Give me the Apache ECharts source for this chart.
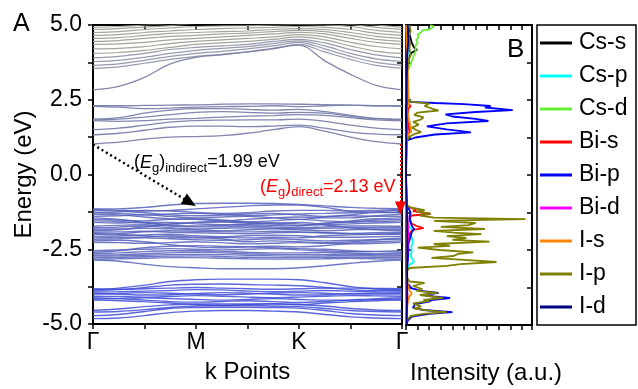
<!DOCTYPE html>
<html>
<head>
<meta charset="utf-8">
<script src="https://cdn.jsdelivr.net/npm/echarts@6/dist/echarts.min.js"></script>
<style>html,body{margin:0;padding:0;background:#fff}#c{width:638px;height:389px}</style>
</head>
<body>
<div id="c"></div>
<script>
// ---------- DATA ----------
const kLabels = ['Γ', 'M', 'K', 'Γ'];
const kPoints = [0, 0.25, 0.5, 0.75, 1, 1.25, 1.5, 1.75, 2, 2.25, 2.5, 2.75, 3];

const upperBandsLow = [
  [3.55,3.6,3.72,3.85,3.95,4.02,4.1,4.2,4.35,4.1,3.85,3.65,3.55],
  [3.65,3.7,3.82,3.95,4.05,4.12,4.2,4.3,4.42,4.2,3.95,3.75,3.65],
  [3.78,3.82,3.92,4.05,4.15,4.22,4.28,4.38,4.47,4.3,4.05,3.87,3.78],
  [3.9,3.95,4.05,4.18,4.25,4.3,4.35,4.45,4.52,4.4,4.18,4.0,3.9]
];
const upperBandsHigh = [
  [4.05,4.08,4.15,4.25,4.35,4.4,4.45,4.52,4.6,4.5,4.3,4.12,4.05],
  [4.2,4.22,4.28,4.38,4.45,4.5,4.55,4.6,4.68,4.6,4.42,4.28,4.2],
  [4.35,4.37,4.42,4.5,4.55,4.6,4.65,4.7,4.75,4.7,4.55,4.42,4.35],
  [4.45,4.48,4.55,4.62,4.65,4.7,4.73,4.78,4.82,4.78,4.65,4.52,4.45],
  [4.55,4.58,4.65,4.72,4.75,4.78,4.8,4.85,4.88,4.85,4.75,4.62,4.55],
  [4.65,4.68,4.75,4.8,4.85,4.88,4.9,4.92,4.95,4.92,4.85,4.72,4.65],
  [4.75,4.78,4.85,4.9,4.95,4.97,4.98,5.0,5.02,5.0,4.95,4.82,4.75],
  [4.85,4.88,4.93,4.98,5.05,5.08,5.1,5.1,5.1,5.08,5.02,4.92,4.85],
  [4.92,4.95,5.0,5.05,5.1,5.15,5.15,5.15,5.15,5.12,5.08,5.0,4.92]
];
const lowestCB = [2.83,2.95,3.25,3.7,3.92,4.0,4.1,4.22,4.33,3.8,3.35,2.98,2.83];
const midBands = [
  [2.30,2.30,2.31,2.32,2.33,2.35,2.36,2.36,2.35,2.34,2.32,2.30,2.30],
  [2.28,2.25,2.2,2.22,2.25,2.27,2.28,2.3,2.27,2.3,2.32,2.3,2.28],
  [1.85,1.9,2.05,2.15,2.2,2.2,2.18,2.15,2.18,2.1,1.98,1.88,1.85],
  [1.83,1.85,1.92,2.0,2.08,2.1,2.08,2.05,2.08,2.05,1.95,1.87,1.83],
  [1.8,1.78,1.8,1.85,1.88,1.92,1.95,1.97,2.0,1.98,1.9,1.83,1.8],
  [1.5,1.55,1.65,1.75,1.8,1.82,1.83,1.83,1.85,1.78,1.65,1.55,1.5],
  [1.33,1.38,1.48,1.58,1.62,1.62,1.6,1.62,1.65,1.55,1.42,1.35,1.33],
  [1.02,1.08,1.18,1.25,1.27,1.3,1.38,1.5,1.6,1.45,1.25,1.1,1.02]
];
const valenceBands = [
  [-1.15,-1.15,-1.1,-1.02,-0.97,-0.96,-0.96,-0.97,-1.0,-1.05,-1.1,-1.13,-1.15],
  [-1.17,-1.2,-1.22,-1.2,-1.15,-1.1,-1.05,-1.02,-1.02,-1.1,-1.22,-1.2,-1.17],
  [-1.2,-1.22,-1.28,-1.35,-1.38,-1.36,-1.32,-1.3,-1.35,-1.4,-1.35,-1.25,-1.2],
  [-1.27,-1.25,-1.2,-1.22,-1.27,-1.3,-1.28,-1.22,-1.2,-1.2,-1.23,-1.26,-1.27],
  [-1.27,-1.3,-1.35,-1.32,-1.3,-1.33,-1.38,-1.35,-1.32,-1.3,-1.28,-1.27,-1.27],
  [-1.33,-1.35,-1.42,-1.48,-1.5,-1.55,-1.5,-1.45,-1.42,-1.45,-1.45,-1.38,-1.33],
  [-1.4,-1.38,-1.35,-1.4,-1.45,-1.42,-1.4,-1.45,-1.5,-1.42,-1.38,-1.4,-1.4],
  [-1.45,-1.5,-1.6,-1.7,-1.72,-1.7,-1.68,-1.7,-1.72,-1.65,-1.55,-1.48,-1.45],
  [-1.5,-1.52,-1.55,-1.5,-1.48,-1.52,-1.58,-1.55,-1.5,-1.55,-1.58,-1.52,-1.5],
  [-1.55,-1.57,-1.62,-1.66,-1.6,-1.58,-1.62,-1.66,-1.7,-1.62,-1.6,-1.57,-1.55],
  [-1.6,-1.62,-1.6,-1.6,-1.65,-1.68,-1.65,-1.62,-1.65,-1.68,-1.65,-1.62,-1.6],
  [-1.73,-1.7,-1.68,-1.72,-1.75,-1.75,-1.72,-1.75,-1.78,-1.75,-1.72,-1.72,-1.73],
  [-1.78,-1.76,-1.72,-1.78,-1.82,-1.8,-1.78,-1.8,-1.82,-1.8,-1.78,-1.78,-1.78],
  [-1.83,-1.82,-1.8,-1.82,-1.85,-1.88,-1.85,-1.82,-1.85,-1.88,-1.85,-1.83,-1.83],
  [-1.88,-1.85,-1.75,-1.65,-1.6,-1.58,-1.6,-1.62,-1.6,-1.68,-1.78,-1.85,-1.88],
  [-1.93,-1.92,-1.9,-1.93,-1.95,-1.97,-1.98,-1.95,-1.93,-1.95,-1.97,-1.95,-1.93],
  [-1.97,-2.0,-2.05,-2.1,-2.12,-2.1,-2.12,-2.1,-2.12,-2.05,-2.02,-2.0,-1.97],
  [-2.0,-1.98,-1.92,-1.88,-1.9,-1.92,-1.92,-1.9,-1.92,-1.95,-1.98,-2.0,-2.0],
  [-2.07,-2.05,-2.02,-2.0,-2.05,-2.08,-2.05,-2.03,-2.05,-2.1,-2.1,-2.08,-2.07],
  [-2.12,-2.1,-2.1,-2.05,-2.1,-2.15,-2.25,-2.22,-2.25,-2.28,-2.25,-2.18,-2.12],
  [-2.17,-2.15,-2.12,-2.15,-2.18,-2.2,-2.18,-2.15,-2.18,-2.22,-2.2,-2.18,-2.17],
  [-2.22,-2.2,-2.25,-2.35,-2.42,-2.45,-2.42,-2.4,-2.42,-2.38,-2.3,-2.25,-2.22],
  [-2.27,-2.28,-2.3,-2.28,-2.25,-2.28,-2.32,-2.3,-2.28,-2.3,-2.32,-2.3,-2.27],
  [-2.55,-2.52,-2.5,-2.48,-2.5,-2.52,-2.5,-2.48,-2.52,-2.55,-2.58,-2.57,-2.55],
  [-2.6,-2.55,-2.45,-2.4,-2.38,-2.4,-2.42,-2.45,-2.48,-2.5,-2.55,-2.58,-2.6],
  [-2.65,-2.62,-2.58,-2.55,-2.55,-2.57,-2.6,-2.62,-2.62,-2.6,-2.62,-2.65,-2.65],
  [-2.7,-2.68,-2.65,-2.62,-2.6,-2.62,-2.65,-2.67,-2.68,-2.67,-2.66,-2.68,-2.7],
  [-2.73,-2.72,-2.7,-2.68,-2.67,-2.68,-2.7,-2.72,-2.73,-2.72,-2.7,-2.72,-2.73],
  [-2.78,-2.77,-2.75,-2.73,-2.72,-2.74,-2.77,-2.78,-2.78,-2.77,-2.76,-2.77,-2.78],
  [-2.83,-2.82,-2.8,-2.78,-2.78,-2.8,-2.82,-2.83,-2.83,-2.82,-2.8,-2.82,-2.83],
  [-2.86,-2.9,-3.0,-3.08,-3.12,-3.15,-3.15,-3.15,-3.12,-3.05,-2.97,-2.9,-2.86]
];
const lowerBands = [
  [-3.85,-3.8,-3.7,-3.58,-3.52,-3.5,-3.5,-3.5,-3.52,-3.62,-3.75,-3.83,-3.85],
  [-3.88,-3.85,-3.78,-3.7,-3.67,-3.66,-3.68,-3.7,-3.72,-3.78,-3.85,-3.88,-3.88],
  [-3.82,-3.84,-3.82,-3.8,-3.78,-3.8,-3.82,-3.84,-3.82,-3.8,-3.8,-3.81,-3.82],
  [-3.93,-3.92,-3.9,-3.88,-3.85,-3.86,-3.9,-3.92,-3.9,-3.88,-3.9,-3.92,-3.93],
  [-3.97,-4.0,-4.03,-4.02,-3.98,-3.95,-3.97,-4.0,-4.03,-4.02,-3.98,-3.97,-3.97],
  [-4.0,-3.98,-3.95,-3.97,-4.0,-4.02,-4.0,-3.97,-3.95,-3.97,-4.0,-4.0,-4.0],
  [-4.07,-4.08,-4.1,-4.08,-4.05,-4.07,-4.1,-4.12,-4.1,-4.07,-4.05,-4.06,-4.07],
  [-4.12,-4.15,-4.2,-4.25,-4.27,-4.25,-4.22,-4.25,-4.28,-4.25,-4.2,-4.15,-4.12],
  [-4.17,-4.15,-4.12,-4.15,-4.18,-4.2,-4.18,-4.15,-4.18,-4.2,-4.2,-4.18,-4.17],
  [-4.2,-4.22,-4.25,-4.3,-4.35,-4.38,-4.35,-4.32,-4.35,-4.3,-4.25,-4.22,-4.2],
  [-4.55,-4.5,-4.42,-4.36,-4.33,-4.33,-4.33,-4.33,-4.35,-4.4,-4.48,-4.53,-4.55],
  [-4.6,-4.58,-4.52,-4.45,-4.4,-4.38,-4.38,-4.4,-4.42,-4.48,-4.55,-4.58,-4.6],
  [-4.72,-4.68,-4.58,-4.48,-4.45,-4.44,-4.44,-4.45,-4.47,-4.55,-4.65,-4.7,-4.72],
  [-4.82,-4.8,-4.72,-4.62,-4.57,-4.55,-4.55,-4.57,-4.6,-4.68,-4.76,-4.8,-4.82]
];

// DOS: [energy (eV), intensity (a.u.)]
const dosNames = ['Cs-s','Cs-p','Cs-d','Bi-s','Bi-p','Bi-d','I-s','I-p','I-d'];
const dosColors = ['#000000','#00ffff','#66ee33','#ff0000','#0000ff','#ff00ff','#ff8800','#808000','#000080'];
const dosCsS = [[5.0,0.25],[4.7,0.3],[4.4,0.5],[4.25,0.7],[4.17,0.95],[4.08,0.5],[3.95,0.3],[3.7,0.15],[3.3,0.05],[2.5,0.02],[0,0],[-5,0]];
const dosCsP = [[5.0,0.15],[4.5,0.2],[4.0,0.15],[3.5,0.05],[2.5,0.05],[2.2,0.1],[1.5,0.05],[0,0],[-1.3,0.05],[-1.6,0.2],[-1.75,0.35],[-1.85,0.6],[-1.95,0.4],[-2.1,0.5],[-2.25,0.6],[-2.4,0.45],[-2.55,0.5],[-2.7,0.4],[-2.8,0.55],[-2.9,0.7],[-3.0,0.25],[-3.2,0.05],[-5,0]];
const dosCsD = [[5.0,2.1],[4.95,2.4],[4.9,2.3],[4.85,2.0],[4.82,1.4],[4.75,1.3],[4.68,1.0],[4.6,1.1],[4.5,0.9],[4.4,1.0],[4.3,0.8],[4.15,0.85],[4.0,0.7],[3.85,0.55],[3.7,0.4],[3.55,0.25],[3.4,0.1],[3.0,0.05],[2.4,0.05],[2.2,0.1],[1.5,0.05],[0,0],[-1.5,0.05],[-2.5,0.05],[-4,0.05],[-5,0.02]];
const dosBiS = [[5.0,0.05],[3.0,0.02],[2.4,0.1],[2.3,0.4],[2.2,0.2],[1.8,0.15],[1.45,0.3],[1.35,0.2],[1.0,0.02],[0,0],[-1.0,0.02],[-1.08,0.3],[-1.15,0.9],[-1.2,0.6],[-1.25,1.4],[-1.3,2.1],[-1.35,0.5],[-1.45,0.3],[-1.6,0.4],[-1.7,0.9],[-1.77,1.5],[-1.83,0.6],[-1.95,0.3],[-2.2,0.15],[-2.6,0.1],[-3,0.05],[-3.9,0.1],[-4.1,0.15],[-5,0]];
const dosBiP = [[5.0,0.1],[4.5,0.15],[4.0,0.1],[3.5,0.05],[3.0,0.02],[2.5,0.05],[2.44,0.3],[2.4,2.5],[2.36,5.0],[2.3,7.3],[2.25,6.8],[2.16,9.2],[2.1,6.0],[2.02,3.4],[1.95,4.0],[1.87,6.0],[1.8,7.1],[1.72,3.5],[1.62,1.8],[1.52,3.5],[1.42,5.6],[1.35,2.5],[1.25,0.8],[1.15,0.1],[1.0,0.02],[0,0],[-1.0,0.02],[-1.1,0.2],[-1.25,0.4],[-1.4,0.3],[-1.55,0.4],[-1.7,0.5],[-1.8,0.7],[-1.9,0.5],[-2.05,0.4],[-2.3,0.2],[-2.6,0.2],[-2.9,0.15],[-3.2,0.05],[-3.6,0.1],[-3.78,0.5],[-3.87,1.5],[-3.93,2.8],[-4.0,1.5],[-4.05,2.4],[-4.1,3.8],[-4.17,2.2],[-4.22,2.0],[-4.3,0.8],[-4.42,0.6],[-4.5,1.5],[-4.57,4.0],[-4.63,2.0],[-4.72,0.5],[-4.85,0.15],[-5.0,0.05]];
const dosBiD = [[5,0.05],[2.3,0.1],[1.4,0.1],[0,0],[-1.3,0.1],[-1.8,0.2],[-2.1,0.15],[-2.8,0.1],[-4.0,0.1],[-5,0]];
const dosIS = [[5,0.02],[2.35,0.25],[2.2,0.1],[1.45,0.45],[1.35,0.2],[1.0,0.02],[0,0],[-1.5,0.05],[-3.5,0.05],[-3.85,0.3],[-3.95,0.5],[-4.05,0.3],[-4.3,0.1],[-5,0]];
const dosIP = [[5.0,0.3],[4.8,0.4],[4.6,0.2],[4.4,0.35],[4.2,0.3],[4.0,0.4],[3.8,0.2],[3.6,0.15],[3.3,0.05],[2.9,0.02],[2.5,0.05],[2.44,0.5],[2.38,2.0],[2.3,1.6],[2.22,2.2],[2.15,2.8],[2.08,1.0],[2.0,0.7],[1.93,1.5],[1.85,1.3],[1.77,0.6],[1.68,1.1],[1.58,0.5],[1.5,0.9],[1.43,1.3],[1.36,0.7],[1.28,0.3],[1.18,0.1],[1.0,0.02],[0,0],[-0.95,0.02],[-1.05,0.2],[-1.1,0.6],[-1.17,1.6],[-1.22,0.9],[-1.28,2.1],[-1.35,1.2],[-1.42,2.4],[-1.47,10.3],[-1.53,2.4],[-1.6,6.0],[-1.67,5.4],[-1.73,3.0],[-1.8,6.8],[-1.86,2.4],[-1.92,4.1],[-1.97,6.5],[-2.04,3.5],[-2.1,5.2],[-2.16,4.0],[-2.22,7.2],[-2.3,2.4],[-2.36,3.8],[-2.42,1.0],[-2.5,2.9],[-2.58,5.8],[-2.63,4.5],[-2.7,4.1],[-2.76,2.2],[-2.83,5.0],[-2.9,7.8],[-2.97,4.7],[-3.03,3.5],[-3.1,0.3],[-3.2,0.1],[-3.4,0.05],[-3.55,0.3],[-3.6,1.6],[-3.7,0.6],[-3.8,1.4],[-3.86,0.9],[-3.93,2.7],[-4.0,1.2],[-4.1,3.2],[-4.16,1.5],[-4.2,2.0],[-4.28,0.6],[-4.38,1.3],[-4.45,0.7],[-4.52,2.0],[-4.57,3.5],[-4.63,1.5],[-4.7,0.4],[-4.83,0.1],[-5.0,0.02]];
const dosID = [[5,0.15],[4.5,0.2],[4,0.1],[3,0.05],[0,0],[-1.5,0.1],[-2.5,0.1],[-4,0.1],[-5,0.05]];
const dosData = [dosCsS, dosCsP, dosCsD, dosBiS, dosBiP, dosBiD, dosIS, dosIP, dosID];

// gap annotations (k, E)
const indirectGap = [[0, 1.0], [0.94, -0.93]];
const directGap = [[2.985, 1.02], [2.985, -1.12]];

// ---------- CHART ----------
const FONT = 'Liberation Sans, Arial, sans-serif';
const chart = echarts.init(document.getElementById('c'), null, {renderer: 'canvas'});

function bandSeries(list, color, width, opacity) {
  return list.map(vals => ({
    type: 'line', xAxisIndex: 0, yAxisIndex: 0, silent: true,
    data: vals.map((e, i) => [kPoints[i], e]),
    smooth: 0.35, showSymbol: false, symbol: 'none',
    lineStyle: {color: color, width: width, opacity: opacity}, z: 2
  }));
}

const series = [].concat(
  bandSeries(upperBandsHigh, '#999b8e', 1.2, 0.9),
  bandSeries(upperBandsLow, '#8b8fa4', 1.2, 0.9),
  bandSeries([lowestCB], '#7c81a8', 1.3, 0.95),
  bandSeries(midBands, '#7a7fab', 1.3, 0.95),
  bandSeries(valenceBands, '#5560bb', 1.4, 0.85),
  bandSeries(lowerBands, '#3d4bd6', 1.4, 0.85)
);

series.push({
  type: 'line', xAxisIndex: 0, yAxisIndex: 0, data: [], silent: true,
  markLine: {
    silent: true, animation: false,
    label: {show: false},
    data: [
      [{coord: indirectGap[0], symbol: 'none', lineStyle: {color: '#000', type: [2, 3], width: 2.5}},
       {coord: indirectGap[1], symbol: 'triangle', symbolSize: [12, 14]}],
      [{coord: directGap[0], symbol: 'none', lineStyle: {color: '#ff0000', type: [2, 2], width: 2}},
       {coord: directGap[1], symbol: 'triangle', symbolSize: [11, 13]}]
    ]
  }
});

dosNames.forEach((name, idx) => {
  series.push({
    name: name, type: 'line', xAxisIndex: 2, yAxisIndex: 2, silent: true,
    data: dosData[idx].map(p => [p[1], p[0]]),
    showSymbol: false, symbol: 'none', color: dosColors[idx],
    lineStyle: {color: dosColors[idx], width: 1.8}, z: 3
  });
});

const axisLine = {onZero: false, lineStyle: {color: '#000', width: 2}};
const tickOut = {show: true, inside: false, length: 5, lineStyle: {color: '#000', width: 1.5}};
const tickIn = {show: true, inside: true, length: 5, lineStyle: {color: '#000', width: 1.5}};

const option = {
  animation: false,
  backgroundColor: '#fff',
  textStyle: {fontFamily: FONT},
  grid: [
    {left: 93, top: 25, width: 309, height: 300},
    {left: 406, top: 25, width: 126, height: 300}
  ],
  xAxis: [
    {gridIndex: 0, type: 'value', min: 0, max: 3, interval: 0.5, position: 'bottom',
     axisLine: axisLine, axisTick: tickOut, splitLine: {show: false},
     axisLabel: {color: '#000', fontSize: 23, fontFamily: FONT, margin: 7,
       formatter: v => Number.isInteger(v) ? kLabels[v] : ''},
     name: 'k Points', nameLocation: 'middle', nameGap: 36,
     nameTextStyle: {color: '#000', fontSize: 24, fontFamily: FONT}},
    {gridIndex: 0, type: 'value', min: 0, max: 3, interval: 0.5, position: 'top',
     axisLine: axisLine, axisTick: tickIn, splitLine: {show: false}, axisLabel: {show: false}},
    {gridIndex: 1, type: 'value', min: 0, max: 10.86, interval: 1, position: 'bottom',
     axisLine: axisLine, axisTick: tickOut, splitLine: {show: false}, axisLabel: {show: false}},
    {gridIndex: 1, type: 'value', min: 0, max: 10.86, interval: 1, position: 'top',
     axisLine: axisLine, axisTick: tickIn, splitLine: {show: false}, axisLabel: {show: false}}
  ],
  yAxis: [
    {gridIndex: 0, type: 'value', min: -5, max: 5, interval: 1.25, position: 'left',
     axisLine: axisLine, axisTick: tickOut, splitLine: {show: false},
     axisLabel: {color: '#000', fontSize: 23, fontFamily: FONT, margin: 11,
       formatter: v => Math.abs(v % 2.5) < 1e-9 ? v.toFixed(1) : ''},
     name: 'Energy (eV)', nameLocation: 'middle', nameGap: 57, nameRotate: 90,
     nameTextStyle: {color: '#000', fontSize: 24, fontFamily: FONT}},
    {gridIndex: 0, type: 'value', min: -5, max: 5, interval: 1.25, position: 'right',
     axisLine: axisLine, axisTick: tickIn, splitLine: {show: false}, axisLabel: {show: false}},
    {gridIndex: 1, type: 'value', min: -5, max: 5, interval: 1.25, position: 'left',
     axisLine: axisLine, axisTick: tickIn, splitLine: {show: false}, axisLabel: {show: false}},
    {gridIndex: 1, type: 'value', min: -5, max: 5, interval: 1.25, position: 'right',
     axisLine: axisLine, axisTick: tickIn, splitLine: {show: false}, axisLabel: {show: false}}
  ],
  legend: {
    data: dosNames, orient: 'vertical', left: 540, top: 31.5, padding: 0,
    itemGap: 10, itemWidth: 32, itemHeight: 3, icon: 'rect',
    selectedMode: false,
    textStyle: {color: '#000', fontSize: 23, lineHeight: 23, fontFamily: FONT, padding: [0, 0, 0, 2]}
  },
  graphic: [
    {type: 'rect', shape: {x: 537, y: 25, width: 99, height: 300},
     style: {fill: 'none', stroke: '#000', lineWidth: 1.5}, silent: true, z: 10},
    {type: 'text', x: 13, y: 24, silent: true,
     style: {text: 'A', fill: '#000', font: '25px ' + FONT, verticalAlign: 'middle'}},
    {type: 'text', x: 507, y: 49.5, silent: true,
     style: {text: 'B', fill: '#000', font: '26px ' + FONT, verticalAlign: 'middle'}},
    {type: 'text', x: 410, y: 373.5, silent: true,
     style: {text: 'Intensity (a.u.)', fill: '#000', font: '24px ' + FONT, verticalAlign: 'middle'}},
    {type: 'text', x: 134, y: 162.5, silent: true, z: 20,
     style: {text: '{p|(}{i|E}{s|g}{p|)}{s|indirect}{p|=1.99 eV}', fill: '#000', verticalAlign: 'middle',
       rich: {
         p: {fontSize: 18, lineHeight: 24, fontFamily: FONT, fill: '#000'},
         i: {fontSize: 18, lineHeight: 24, fontStyle: 'italic', fontFamily: FONT, fill: '#000'},
         s: {fontSize: 13, lineHeight: 13, verticalAlign: 'bottom', fontFamily: FONT, fill: '#000'}
       }}},
    {type: 'text', x: 260, y: 186.7, silent: true, z: 20,
     style: {text: '{p|(}{i|E}{s|g}{p|)}{s|direct}{p|=2.13 eV}', fill: '#ff0000', verticalAlign: 'middle',
       rich: {
         p: {fontSize: 18, lineHeight: 24, fontFamily: FONT, fill: '#ff0000'},
         i: {fontSize: 18, lineHeight: 24, fontStyle: 'italic', fontFamily: FONT, fill: '#ff0000'},
         s: {fontSize: 13, lineHeight: 13, verticalAlign: 'bottom', fontFamily: FONT, fill: '#ff0000'}
       }}}
  ],
  series: series
};
chart.setOption(option);
</script>
</body>
</html>
